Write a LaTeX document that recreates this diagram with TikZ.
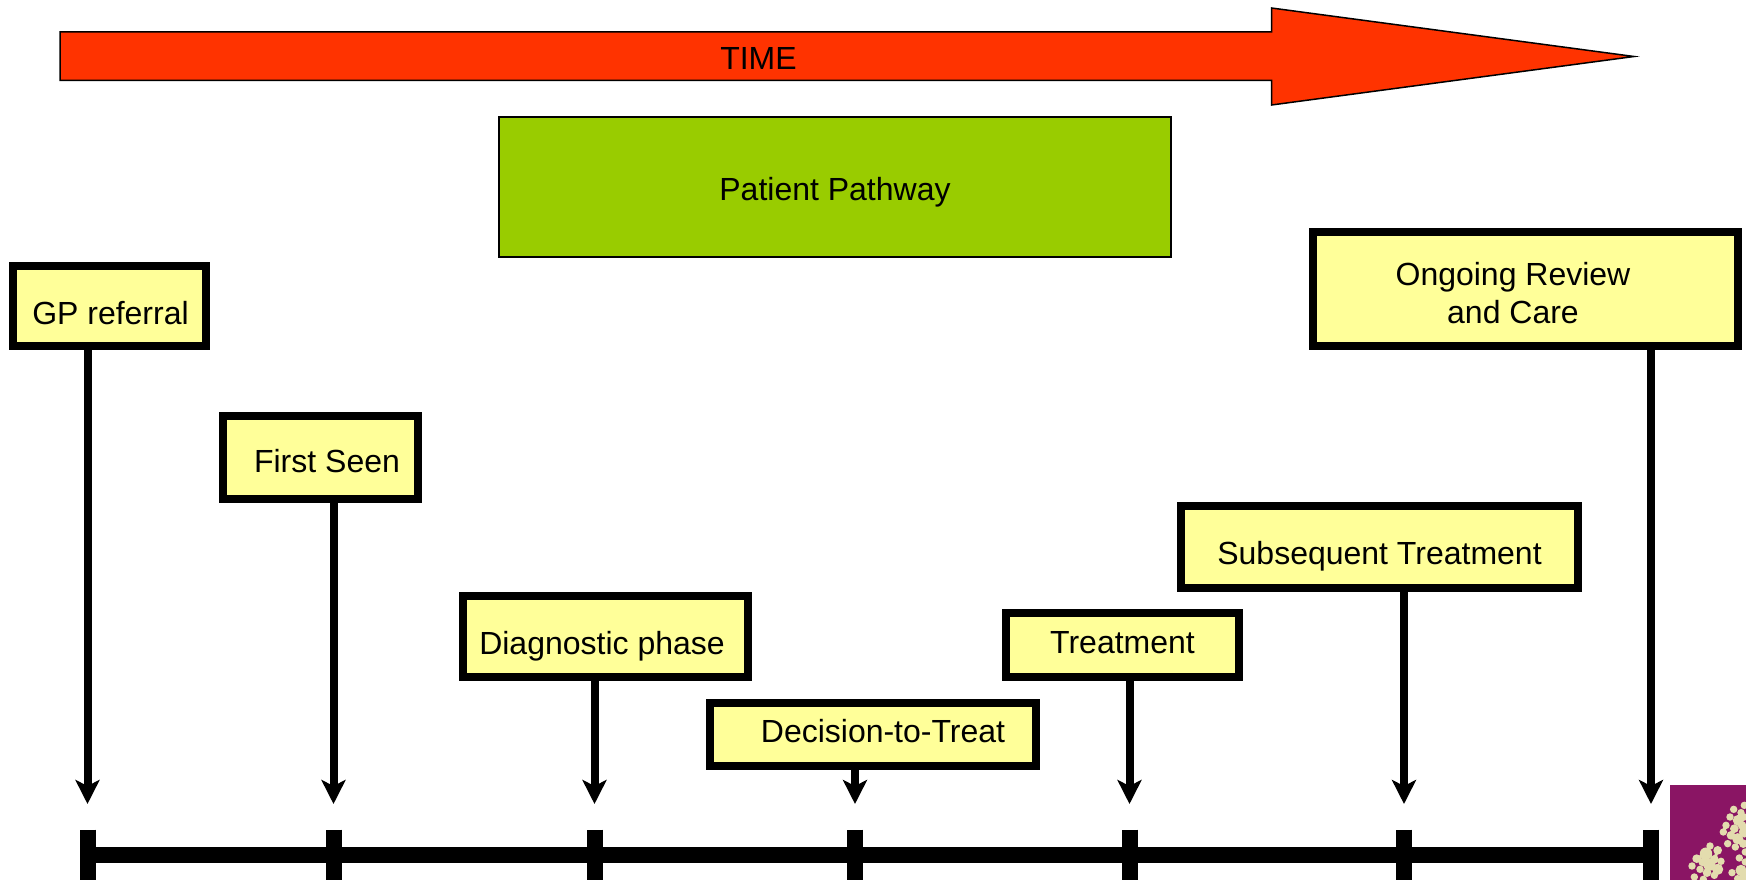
\documentclass[tikz,border=0pt]{standalone}
\usepackage{fontspec}
\setmainfont{Liberation Sans}
\usetikzlibrary{arrows.meta}
\definecolor{arrowred}{HTML}{FF3300}
\definecolor{pathgreen}{HTML}{99CC00}
\definecolor{boxyellow}{HTML}{FFFF99}
\definecolor{logopurple}{HTML}{8A1564}
\definecolor{logocream}{HTML}{E3DCAE}
\tikzset{
  lab/.style={font=\fontsize{32}{38}\selectfont, text=black, inner sep=0pt, align=center},
  ybox/.style={draw=black, line width=8pt, fill=boxyellow, inner sep=0pt, outer sep=0pt},
  conn/.style={draw=black, line width=8pt, -{Stealth[length=24pt,width=24pt,inset=6pt]}},
  axis/.style={draw=black, line width=16pt}
}
\newcommand{\yboxat}[5]{% name, x1,y1,x2,y2 outer edges
  \node[ybox, minimum width=#4-#2-8pt, minimum height=#5-#3-8pt] (#1) at ({(#2+#4)/2},{(#3+#5)/2}) {};
}
\begin{document}
\begin{tikzpicture}[x=1pt,y=-1pt]
\useasboundingbox (0,0) rectangle (1746,880);
% time arrow
\draw[draw=black, line width=1.5pt, fill=arrowred, line join=miter, miter limit=20]
  (60,32) -- (1271.5,32) -- (1271.5,8) -- (1634,56.5) -- (1271.5,105) -- (1271.5,80.5) -- (60,80.5) -- cycle;
\node[lab] (time) at (758.5,58) {TIME};
% green box
\node[draw=black, line width=1.5pt, fill=pathgreen, minimum width=672pt, minimum height=140pt, inner sep=0pt, outer sep=0pt] (pathway) at (835,187) {};
\node[lab] (pathwaytext) at (835,192.5) {Patient Pathway};
% axis coordinates
\coordinate (t1) at (87.5,829.5);
\coordinate (t2) at (333.5,829.5);
\coordinate (t3) at (594.5,829.5);
\coordinate (t4) at (855,829.5);
\coordinate (t5) at (1129.5,829.5);
\coordinate (t6) at (1404,829.5);
\coordinate (t7) at (1651,829.5);
\coordinate (bottom) at (0,880);
\coordinate (axisy) at (0,855);
\coordinate (tipy) at (0,804);
% boxes
\yboxat{gp}{9}{262}{209.5}{350}
\yboxat{first}{219}{412}{422}{503}
\yboxat{diag}{459}{591.5}{752}{681}
\yboxat{dec}{706}{699}{1040}{770}
\yboxat{treat}{1002}{609}{1243}{681}
\yboxat{subs}{1176.5}{502}{1582}{592}
\yboxat{ongo}{1308.5}{228}{1741.5}{350}
% box labels
\node[lab] (gptext) at (110.5,313) {GP referral};
\node[lab] (firsttext) at (327,461) {First Seen};
\node[lab] (diagtext) at (602,646) {Diagnostic phase};
\node[lab] (dectext) at (883,731) {Decision-to-Treat};
\node[lab] (treattext) at (1122.5,643) {Treatment};
\node[lab] (substext) at (1379.5,556.5) {Subsequent Treatment};
\node[lab] (ongotext) at (1513,293) {Ongoing Review\\and Care};
% connectors
\draw[conn] (gp.south -| t1) -- (tipy -| t1);
\draw[conn] (first.south -| t2) -- (tipy -| t2);
\draw[conn] (diag.south -| t3) -- (tipy -| t3);
\draw[conn] (dec.south -| t4) -- (tipy -| t4);
\draw[conn] (treat.south -| t5) -- (tipy -| t5);
\draw[conn] (subs.south -| t6) -- (tipy -| t6);
\draw[conn] (ongo.south -| t7) -- (tipy -| t7);
% axis
\draw[draw=black, line width=16pt] (axisy -| t1) -- (axisy -| t7);
\foreach \t in {t1,t2,t3,t4,t5,t6,t7} \draw[axis] (\t) -- (bottom -| \t);
% logo
\begin{scope}
\clip (1670,785) rectangle (1746,880);
\fill[logopurple] (1670,785) rectangle (1746,880);
\begin{scope}[shift={(1666,782)}, x=0.3333pt, y=-0.3333pt]
\foreach \x/\y/\r in {235/70/6,203/82/6,225/92/6,192/105/6,217/115/9,235/105/6,180/130/6,205/140/7,228/130/7,172/150/6,195/160/7,215/170/9,235/150/9,185/185/6,208/195/6,232/185/7,220/228/6,238/210/6,132/192/6,155/205/7,120/215/10,145/232/7,92/230/7,110/240/7,165/238/6,130/248/10,78/252/6,155/262/9,102/262/6,123/272/7,145/280/6,85/285/6,112/292/6,198/272/6,225/265/9,238/240/6,215/290/6,235/285/9}
  \fill[logocream] (\x,\y) circle [radius=\r*0.62pt];
\draw[logocream, line width=3pt]
  (172,150) -- (180,130)  (195,160) -- (215,170) -- (235,150)  (92,230) -- (120,215) -- (132,192)
  (120,215) -- (130,248) -- (155,262)  (145,232) -- (155,205)  (217,115) -- (225,92);
\end{scope}
\end{scope}
\end{tikzpicture}
\end{document}
